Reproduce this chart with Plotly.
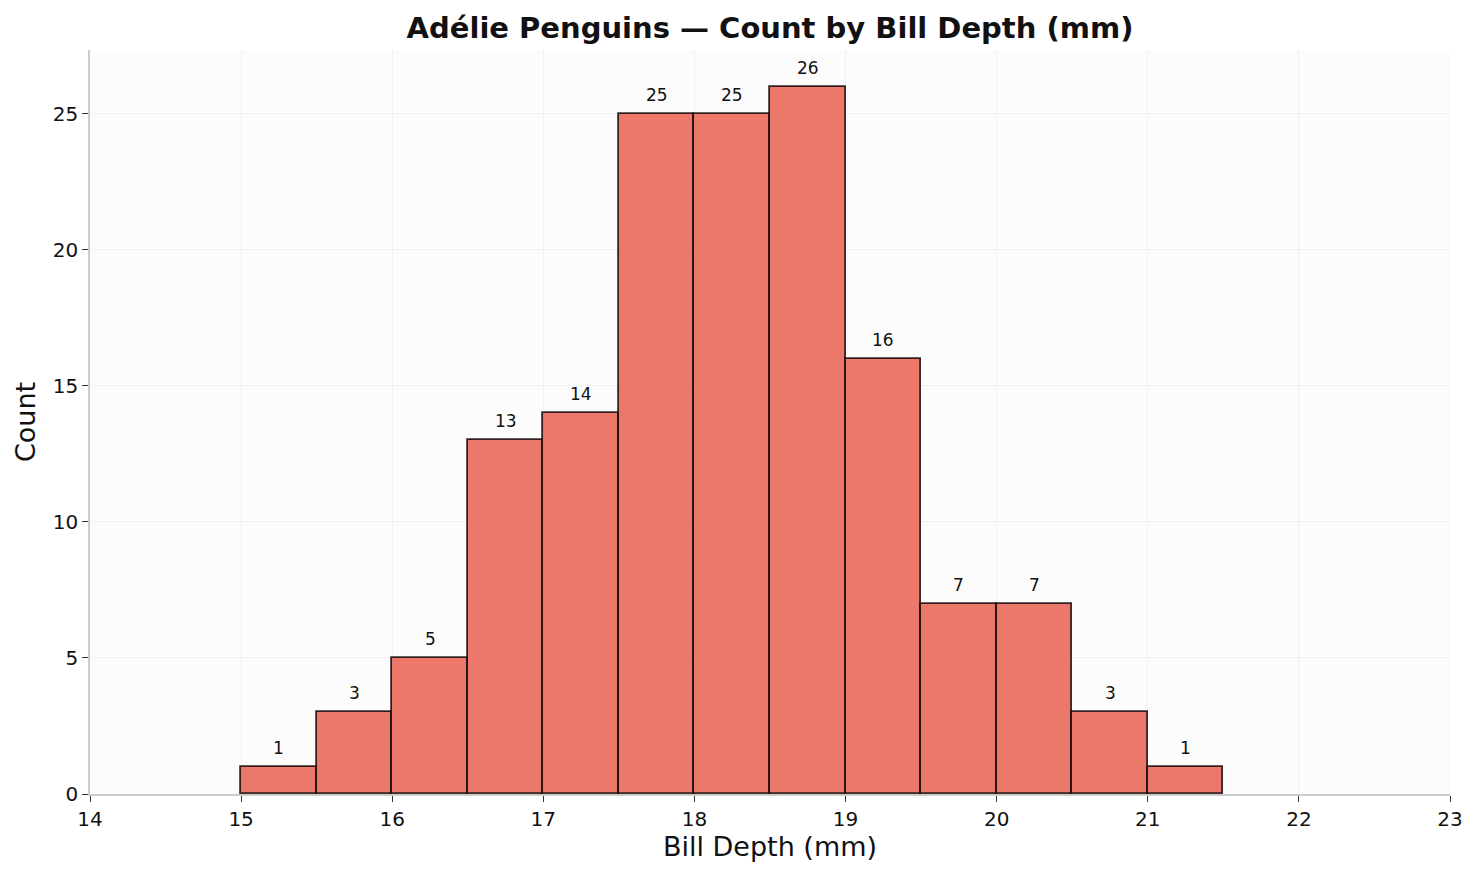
import plotly.graph_objects as go

# histogram bins (mm) and counts
bin_left = [15.0, 15.5, 16.0, 16.5, 17.0, 17.5, 18.0, 18.5, 19.0, 19.5, 20.0, 20.5, 21.0]
bin_width = 0.5
counts = [1, 3, 5, 13, 14, 25, 25, 26, 16, 7, 7, 3, 1]

x_ticks = list(range(14, 24))
y_ticks = [0, 5, 10, 15, 20, 25]

centers = [b + bin_width / 2 for b in bin_left]

fig = go.Figure()
fig.add_trace(go.Bar(
    x=centers,
    y=counts,
    width=bin_width,
    marker=dict(color="rgba(231,76,60,0.75)",
                line=dict(color="rgba(20,10,10,0.85)", width=1.8)),
    showlegend=False,
    hoverinfo="x+y",
))

for cx, c in zip(centers, counts):
    fig.add_annotation(x=cx, y=c, text=str(c), showarrow=False,
                       yanchor="bottom", yshift=7,
                       font=dict(size=17, color="#111", family="DejaVu Sans"))

fig.update_layout(
    width=1479, height=878,
    margin=dict(l=90, r=29, t=50, b=84),
    paper_bgcolor="white",
    plot_bgcolor="#fcfcfc",
    font=dict(family="DejaVu Sans", color="#111"),
    title=dict(text="<b>Adélie Penguins — Count by Bill Depth (mm)</b>",
               x=0.5, xanchor="center", xref="paper",
               yref="container", y=1 - 28 / 878, yanchor="middle",
               font=dict(size=29, color="#111")),
    bargap=0,
)
fig.update_xaxes(
    range=[14, 23], tickvals=x_ticks, showgrid=True, gridcolor="#f0f0f0",
    showline=True, linecolor="#cccccc", linewidth=1.5, zeroline=False,
    ticks="outside", ticklen=6, tickcolor="#333", tickfont=dict(size=20),
    title=dict(text="Bill Depth (mm)", font=dict(size=27), standoff=7),
)
fig.update_yaxes(
    range=[0, 27.35], tickvals=y_ticks, showgrid=True, gridcolor="#f0f0f0",
    showline=True, linecolor="#cccccc", linewidth=1.5, zeroline=False,
    ticks="outside", ticklen=6, tickcolor="#333", tickfont=dict(size=20),
    title=dict(text="Count", font=dict(size=27), standoff=9),
)

fig.write_html("out.html", config={"displayModeBar": False},
               post_script="document.body.style.margin='0';")
